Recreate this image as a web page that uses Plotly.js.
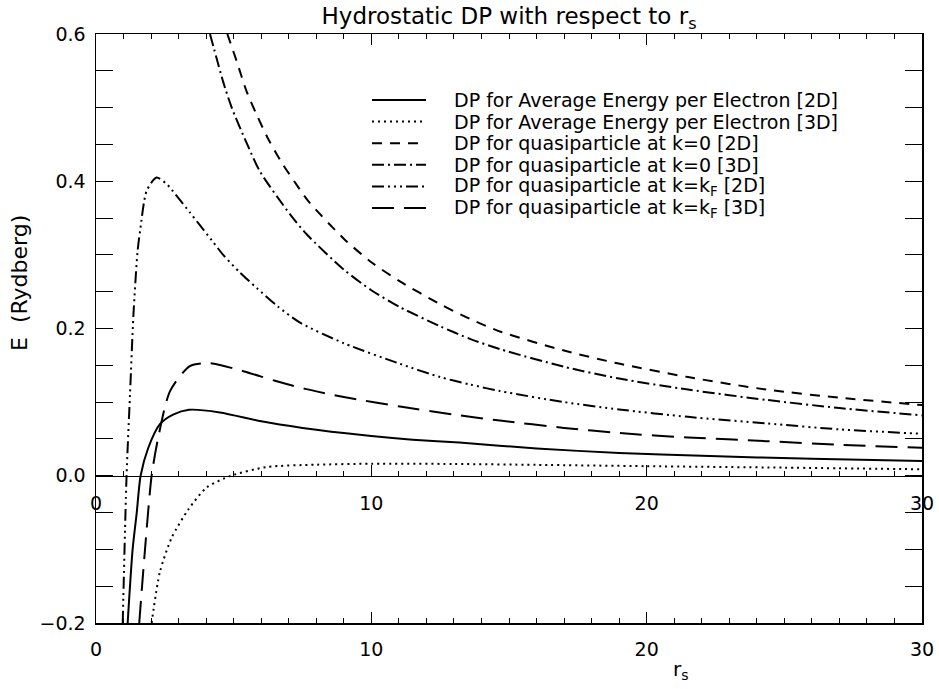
<!DOCTYPE html>
<html>
<head>
<meta charset="utf-8">
<script src="https://cdn.plot.ly/plotly-3.0.1.min.js"></script>
<style>html,body{margin:0;padding:0;background:#fff;}#chart{width:939px;height:689px;}</style>
</head>
<body>
<div id="chart"></div>
<script>
// ---- data ----
var avg2D_x = [1.15, 1.33, 1.48, 1.62, 1.9, 2.32, 2.8, 3.38, 4.5, 6, 7.5, 9, 10, 11.5, 13.2, 16, 19, 22, 26, 30];
var avg2D_y = [-0.2, -0.1, -0.05, 0, 0.038, 0.070, 0.083, 0.0896, 0.086, 0.074, 0.065, 0.058, 0.054, 0.049, 0.045, 0.037, 0.031, 0.027, 0.023, 0.020];

var avg3D_x = [2.02, 2.32, 2.75, 3.35, 4.02, 4.9, 6.2, 8, 10, 13, 16, 20, 25, 30];
var avg3D_y = [-0.2, -0.131, -0.084, -0.046, -0.016, 0, 0.0118, 0.015, 0.0163, 0.016, 0.0148, 0.013, 0.011, 0.0088];

var k0_2D_x = [4.77, 5.11, 5.47, 5.84, 6.26, 6.75, 7.29, 7.71, 9, 10, 11.04, 12.5, 13.58, 14.67, 17, 19.03, 21.5, 24.36, 27, 30];
var k0_2D_y = [0.6, 0.563, 0.522, 0.49, 0.457, 0.425, 0.395, 0.373, 0.322, 0.29, 0.264, 0.233, 0.213, 0.196, 0.170, 0.152, 0.134, 0.117, 0.106, 0.096];

var k0_3D_x = [4.14, 4.62, 4.93, 5.47, 5.96, 7.05, 7.65, 9, 10, 11.04, 12.5, 13.58, 14.67, 17, 19, 21.5, 24.36, 27, 30];
var k0_3D_y = [0.6, 0.535, 0.50, 0.452, 0.413, 0.355, 0.328, 0.280, 0.252, 0.229, 0.203, 0.186, 0.172, 0.148, 0.132, 0.117, 0.103, 0.092, 0.082];

var kf_2D_x = [0.97, 1.11, 1.235, 1.36, 1.51, 1.6, 1.84, 2.2, 2.6, 2.93, 3.4, 3.78, 4.2, 4.62, 5.2, 5.84, 6.6, 7.41, 9, 11.04, 12.5, 13.58, 14.67, 17, 19, 21.5, 24.36, 27, 30];
var kf_2D_y = [-0.2, 0, 0.110, 0.219, 0.305, 0.332, 0.387, 0.405, 0.395, 0.380, 0.358, 0.340, 0.320, 0.300, 0.277, 0.255, 0.230, 0.208, 0.180, 0.152, 0.134, 0.124, 0.115, 0.100, 0.090, 0.080, 0.071, 0.063, 0.057];

var kf_3D_x = [1.57, 1.78, 2.02, 2.26, 2.69, 3.41, 4.14, 5.35, 6.5, 7.6, 9, 11.04, 13, 14.67, 17, 19, 21.5, 24.36, 27, 30];
var kf_3D_y = [-0.2, -0.1, 0, 0.052, 0.115, 0.149, 0.153, 0.142, 0.129, 0.118, 0.107, 0.094, 0.083, 0.075, 0.065, 0.058, 0.052, 0.047, 0.042, 0.038];

var seriesNames = [
  'DP for Average Energy per Electron [2D]',
  'DP for Average Energy per Electron [3D]',
  'DP for quasiparticle at k=0 [2D]',
  'DP for quasiparticle at k=0 [3D]',
  'DP for quasiparticle at k=k<sub>F</sub> [2D]',
  'DP for quasiparticle at k=k<sub>F</sub> [3D]'
];
var xTicks = [0, 10, 20, 30];
var yTicks = [-0.2, 0.0, 0.2, 0.4, 0.6];

// ---- styles ----
var dashes = ['solid', '2px,4px', '10px,8px', '12px,4px,2px,4px', '12px,4px,2px,4px,2px,4px,2px,4px', '22px,10px'];
var xs = [avg2D_x, avg3D_x, k0_2D_x, k0_3D_x, kf_2D_x, kf_3D_x];
var ys = [avg2D_y, avg3D_y, k0_2D_y, k0_3D_y, kf_2D_y, kf_3D_y];
var FONT = 'DejaVu Sans';

var traces = [];
for (var i = 0; i < 6; i++) {
  traces.push({
    x: xs[i], y: ys[i], type: 'scatter', mode: 'lines', name: seriesNames[i], showlegend: false,
    line: {color: 'black', width: 2, dash: dashes[i], shape: 'spline', smoothing: 0.7},
    hoverinfo: 'x+y'
  });
}
// axis drawn along E = 0
traces.push({x: [], y: [], xaxis: 'x2', yaxis: 'y', type: 'scatter', mode: 'lines', showlegend: false, hoverinfo: 'skip'});

// ---- legend (IDL-style, drawn as paper-referenced lines and text) ----
var L = 96, W = 826, B = 623, H = 589;
function px2x(p) { return (p - L) / W; }
function px2y(p) { return (B - p) / H; }
var shapes = [], annotations = [];
var rowY0 = 100, rowStep = 21.6;
for (var j = 0; j < 6; j++) {
  var yy = px2y(rowY0 + j * rowStep);
  shapes.push({type: 'line', xref: 'paper', yref: 'paper', x0: px2x(372), x1: px2x(426), y0: yy, y1: yy,
               line: {color: 'black', width: 2, dash: dashes[j]}});
  annotations.push({text: seriesNames[j], xref: 'paper', yref: 'paper', x: px2x(452), y: yy,
                    xanchor: 'left', yanchor: 'middle', showarrow: false,
                    font: {family: FONT, size: 19, color: 'black'}});
}
annotations.push({text: 'E  (Rydberg)', xref: 'paper', yref: 'paper', x: px2x(19), y: px2y(283), textangle: -90,
  showarrow: false, xanchor: 'center', yanchor: 'middle', font: {family: FONT, size: 22, color: 'black'}});
annotations.push({text: 'r<sub>s</sub>', xref: 'paper', yref: 'paper', x: px2x(681), y: px2y(670),
  showarrow: false, xanchor: 'center', yanchor: 'middle', font: {family: FONT, size: 20, color: 'black'}});

var axFont = {family: FONT, size: 19, color: 'black'};
var layout = {
  width: 939, height: 689,
  margin: {l: 96, r: 17, t: 34, b: 66},
  paper_bgcolor: 'white', plot_bgcolor: 'white',
  font: {family: FONT, color: 'black'},
  title: {text: 'Hydrostatic DP with respect to r<sub>s</sub>', font: {family: FONT, size: 23, color: 'black'},
          x: 0.5, xref: 'paper', xanchor: 'center', y: 1 - 16 / 689, yref: 'container', yanchor: 'middle'},
  showlegend: false,
  xaxis: {range: [0, 30], tickvals: xTicks, ticktext: xTicks.map(String), ticks: 'inside', ticklen: 11, tickwidth: 1.5, tickcolor: 'black',
          minor: {dtick: 1, tick0: 0, ticks: 'inside', ticklen: 5, tickwidth: 1, tickcolor: 'black'},
          showline: true, linewidth: 1.5, linecolor: 'black', mirror: 'allticks', showgrid: false, zeroline: false,
          tickfont: axFont, ticklabelstandoff: 9},
  xaxis2: {range: [0, 30], overlaying: 'x', anchor: 'free', position: 0.25, side: 'bottom',
           tickvals: xTicks, ticktext: xTicks.map(String), ticks: 'inside', ticklen: 11, tickwidth: 1.5, tickcolor: 'black',
           minor: {dtick: 1, tick0: 0, ticks: 'inside', ticklen: 5, tickwidth: 1, tickcolor: 'black'},
           showline: true, linewidth: 1.5, linecolor: 'black', showgrid: false, zeroline: false,
           tickfont: axFont, ticklabelstandoff: 10},
  yaxis: {range: [-0.2, 0.6], tickvals: yTicks, tickformat: '.1f', ticks: 'inside', ticklen: 17, tickwidth: 1.5, tickcolor: 'black',
          minor: {dtick: 0.05, tick0: 0, ticks: 'inside', ticklen: 8, tickwidth: 1, tickcolor: 'black'},
          showline: true, linewidth: 1.5, linecolor: 'black', mirror: 'allticks', showgrid: false, zeroline: false,
          tickfont: axFont, ticklabelstandoff: 5},
  shapes: shapes,
  annotations: annotations
};

Plotly.newPlot('chart', traces, layout, {staticPlot: true, displayModeBar: false});
</script>
</body>
</html>
